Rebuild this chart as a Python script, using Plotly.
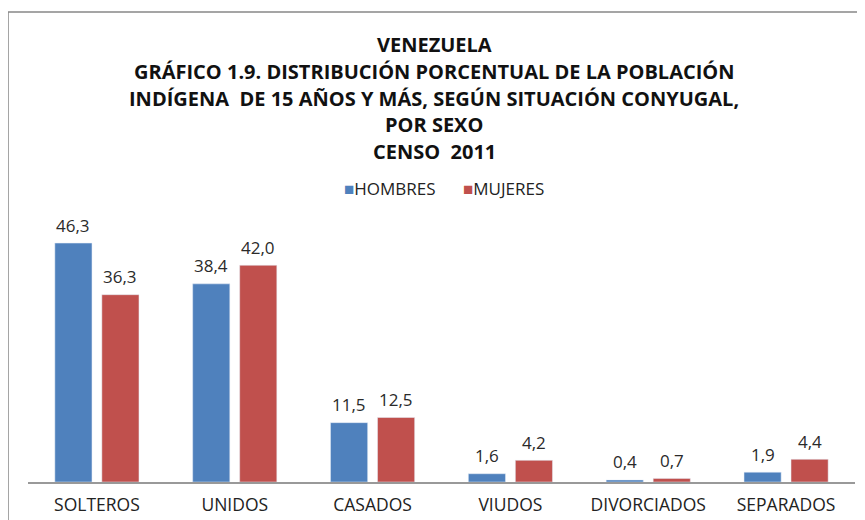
import plotly.graph_objects as go

categorias = ["SOLTEROS", "UNIDOS", "CASADOS", "VIUDOS", "DIVORCIADOS", "SEPARADOS"]
hombres = [46.3, 38.4, 11.5, 1.6, 0.4, 1.9]
mujeres = [36.3, 42.0, 12.5, 4.2, 0.7, 4.4]
series = [("HOMBRES", hombres, "#4F81BD"), ("MUJERES", mujeres, "#C0504D")]

titulo = [
    "VENEZUELA",
    "GRÁFICO 1.9. DISTRIBUCIÓN PORCENTUAL DE LA POBLACIÓN",
    "INDÍGENA  DE 15 AÑOS Y MÁS, SEGÚN SITUACIÓN CONYUGAL,",
    "POR SEXO",
    "CENSO  2011",
]

# the page body has an 8px margin, so the figure sits 8px right/down
OFF = 8
W, H = 865, 520
L, R, T, B = 20, 18, 216, 46
PW, PH = W - L - R, H - T - B
FONT = "'Open Sans', Lato, sans-serif"


def px_x(x):
    # reference pixel -> paper x
    return (x - OFF - L) / PW


def px_y(y):
    # reference pixel -> paper y
    return (H - B - (y - OFF)) / PH


fig = go.Figure()

for i, (nombre, vals, color) in enumerate(series):
    fig.add_trace(go.Bar(
        x=categorias, y=vals, name=nombre,
        marker=dict(color=color),
        showlegend=False,
    ))

annotations = []

# data labels above bars
slot = PW / len(categorias) * (1 - 0.318) / 2
for i, (nombre, vals, color) in enumerate(series):
    shift = (i - 0.5) * slot
    for c, v in zip(categorias, vals):
        annotations.append(dict(
            x=c, y=v, xref="x", yref="y", text=f"{v:.1f}".replace(".", ","),
            showarrow=False, xanchor="center", yanchor="middle",
            xshift=shift, yshift=18,
            font=dict(family=FONT, size=17, color="#2a2a2a"),
        ))

# title lines as separate annotations to control spacing
line_y = [44, 71, 98, 124, 151]
for txt, yy in zip(titulo, line_y):
    annotations.append(dict(
        text="<b>" + txt + "</b>", x=px_x(434), y=px_y(yy),
        xref="paper", yref="paper", showarrow=False,
        xanchor="center", yanchor="middle",
        font=dict(family=FONT, size=20, color="#111111"),
    ))

# legend: small square right next to the label
leg_x = [342, 461]
for (nombre, vals, color), lx in zip(series, leg_x):
    annotations.append(dict(
        text=f"<span style='color:{color}'>■</span>{nombre}",
        x=px_x(lx), y=px_y(188), xref="paper", yref="paper",
        showarrow=False, xanchor="left", yanchor="middle",
        font=dict(family=FONT, size=17, color="#222222"),
    ))

fig.update_layout(
    width=W, height=H,
    margin=dict(l=L, r=R, t=T, b=B, autoexpand=False),
    paper_bgcolor="white", plot_bgcolor="white",
    font=dict(family=FONT, size=15, color="#222222"),
    barmode="group", bargap=0.318, bargroupgap=0.21,
    showlegend=False,
    xaxis=dict(
        showline=True, linecolor="#999999", linewidth=1.5,
        ticks="", showgrid=False, ticklabelstandoff=6,
        tickfont=dict(family=FONT, size=17.5, color="#222222"),
    ),
    yaxis=dict(range=[0, 50], visible=False, showgrid=False),
    annotations=annotations,
    shapes=[dict(
        type="rect", xref="paper", yref="paper",
        x0=px_x(8), y0=px_y(600), x1=px_x(900), y1=px_y(12),
        line=dict(color="#888888", width=1.5),
    )],
)

fig.write_html("out.html")
